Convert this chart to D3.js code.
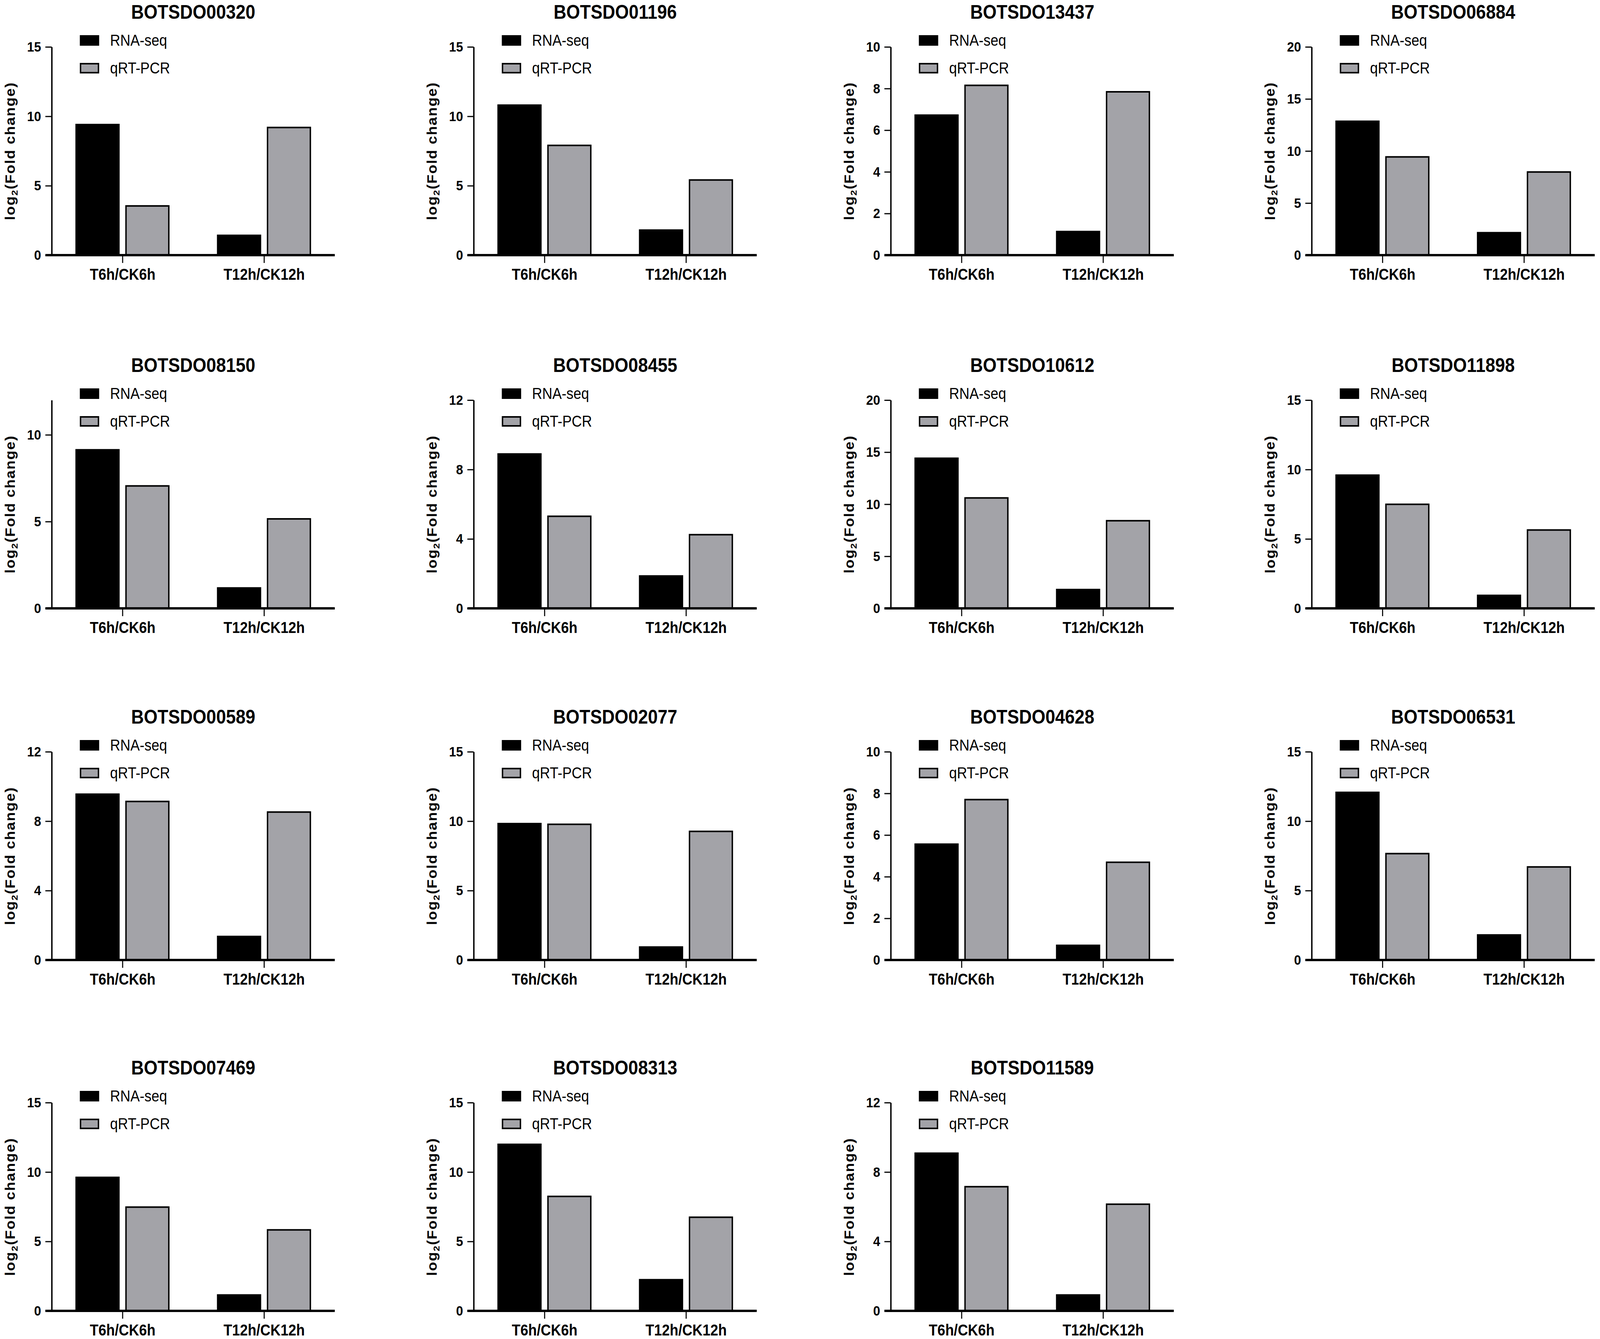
<!DOCTYPE html>
<html>
<head>
<meta charset="utf-8">
<script src="https://cdn.jsdelivr.net/npm/d3@7"></script>
<style>
  html, body { margin: 0; padding: 0; background: #fff; overflow: hidden; }
  svg { display: block; font-family: "Liberation Sans", Arial, sans-serif; }
  .axis path, .axis line { stroke: #000; }
  .axis text { fill: #000; font-weight: bold; }
</style>
</head>
<body>
<div id="chart"></div>
<script>
// Dados
const genes = ['BOTSDO00320', 'BOTSDO01196', 'BOTSDO13437', 'BOTSDO06884',
               'BOTSDO08150', 'BOTSDO08455', 'BOTSDO10612', 'BOTSDO11898',
               'BOTSDO00589', 'BOTSDO02077', 'BOTSDO04628', 'BOTSDO06531',
               'BOTSDO07469', 'BOTSDO08313', 'BOTSDO11589'];
const categories = ['T6h/CK6h', 'T12h/CK12h'];
const seriesNames = ['RNA-seq', 'qRT-PCR'];

// [T6h/CK6h, T12h/CK12h]
const rnaSeq = [
    [9.46, 1.48], [10.86, 1.86], [6.76, 1.17], [12.93, 2.23],
    [9.18, 1.22], [8.94, 1.91], [14.49, 1.88], [9.65, 0.99],
    [9.60, 1.40], [9.88, 0.99], [5.60, 0.74], [12.13, 1.86],
    [9.67, 1.20], [12.05, 2.30], [9.13, 0.96]
];
const qrtPcr = [
    [3.60, 9.25], [7.96, 5.47], [8.19, 7.88], [9.51, 8.06],
    [7.10, 5.20], [5.35, 4.29], [10.68, 8.49], [7.55, 5.70],
    [9.18, 8.57], [9.83, 9.32], [7.74, 4.73], [7.72, 6.76],
    [7.53, 5.89], [8.30, 6.80], [7.20, 6.19]
];

// Eixo Y de cada painel
const yMax  = [15, 15, 10, 20, 12, 12, 20, 15, 12, 15, 10, 15, 15, 15, 12];
const yStep = [5, 5, 2, 5, 5, 4, 5, 5, 4, 5, 2, 5, 5, 5, 4];

const colors = { 'RNA-seq': '#000000', 'qRT-PCR': '#a3a3a8' };

const W = 4550, H = 3427;
const colX = [147, 1347, 2533, 3730];
const rowZero = [653, 1557, 2457, 3355];
const plotW = 805, plotH = 533;

// viewBox esticado para ocupar a janela inteira
const svg = d3.select('#chart').append('svg')
    .attr('viewBox', `0 0 ${W} ${H}`)
    .attr('preserveAspectRatio', 'none')
    .style('width', '100vw')
    .style('height', '100vh');

svg.append('rect').attr('width', W).attr('height', H).attr('fill', '#fff');

genes.forEach((gene, i) => {
    const col = i % 4, row = Math.floor(i / 4);
    const g = svg.append('g')
        .attr('transform', `translate(${colX[col]},${rowZero[row] - plotH})`);

    // Escalas
    const x0 = d3.scaleBand()
        .domain(categories)
        .range([0, plotW])
        .paddingInner(0.335)
        .paddingOuter(0.1675);

    const x1 = d3.scaleBand()
        .domain(seriesNames)
        .range([0, x0.bandwidth()])
        .paddingInner(0.113);

    const xTick = d3.scalePoint()
        .domain(categories)
        .range([0, plotW])
        .padding(0.5);

    const y = d3.scaleLinear()
        .domain([0, yMax[i]])
        .range([plotH, 0]);

    // Barras
    const rows = categories.map((c, k) => ({
        cat: c,
        values: [
            { s: 'RNA-seq', v: rnaSeq[i][k] },
            { s: 'qRT-PCR', v: qrtPcr[i][k] }
        ]
    }));

    const grp = g.selectAll('.cat')
        .data(rows)
        .enter().append('g')
        .attr('class', 'cat')
        .attr('transform', d => `translate(${x0(d.cat)},0)`);

    grp.selectAll('rect')
        .data(d => d.values)
        .enter().append('rect')
        .attr('x', d => x1(d.s) + 2)
        .attr('width', x1.bandwidth() - 4)
        .attr('y', d => y(d.v) + 2)
        .attr('height', d => plotH - y(d.v) - 2)
        .attr('fill', d => colors[d.s])
        .attr('stroke', '#000')
        .attr('stroke-width', 4);

    // Eixo Y
    const ticks = d3.range(0, yMax[i] + 0.001, yStep[i]);
    const yAxis = g.append('g')
        .attr('class', 'axis')
        .call(d3.axisLeft(y).tickValues(ticks).tickSize(18).tickSizeOuter(0).tickPadding(12));
    yAxis.select('.domain').attr('stroke-width', 4);
    yAxis.selectAll('.tick line').attr('stroke-width', 3);
    yAxis.selectAll('text').style('font-size', '36px');

    // Eixo X (a linha começa na ponta do tick do zero, como no original)
    const xAxis = g.append('g')
        .attr('class', 'axis')
        .attr('transform', `translate(0,${plotH})`)
        .call(d3.axisBottom(xTick).tickSize(20).tickSizeOuter(0).tickPadding(15));
    xAxis.select('.domain')
        .attr('d', `M-18,0H${plotW}`)
        .attr('stroke-width', 6);
    xAxis.selectAll('.tick line').attr('stroke-width', 3);
    xAxis.selectAll('text').style('font-size', '40px');

    // Título
    g.append('text')
        .attr('x', plotW / 2)
        .attr('y', -72)
        .attr('text-anchor', 'middle')
        .style('font-size', '50px')
        .style('font-weight', 'bold')
        .text(gene);

    // Título do eixo Y
    const lab = g.append('text')
        .attr('transform', `translate(-118,${plotH / 2}) rotate(-90)`)
        .attr('text-anchor', 'middle')
        .attr('dy', '0.35em')
        .style('font-size', '38px')
        .style('font-weight', 'bold')
        .style('letter-spacing', '2px');
    lab.append('tspan').text('log');
    lab.append('tspan').attr('dy', '0.3em').style('font-size', '25px').text('2');
    lab.append('tspan').attr('dy', '-0.2em').text('(Fold change)');

    // Legenda
    const legend = g.append('g')
        .attr('transform', `translate(80,-30)`);

    seriesNames.forEach((s, k) => {
        const lg = legend.append('g')
            .attr('transform', `translate(0,${k * 71})`);

        lg.append('rect')
            .attr('x', 2)
            .attr('y', 2)
            .attr('width', 51)
            .attr('height', 23)
            .attr('fill', colors[s])
            .attr('stroke', '#000')
            .attr('stroke-width', 4);

        lg.append('text')
            .attr('x', 86)
            .attr('y', 27)
            .style('font-size', '40px')
            .text(s);
    });
});
</script>
</body>
</html>
